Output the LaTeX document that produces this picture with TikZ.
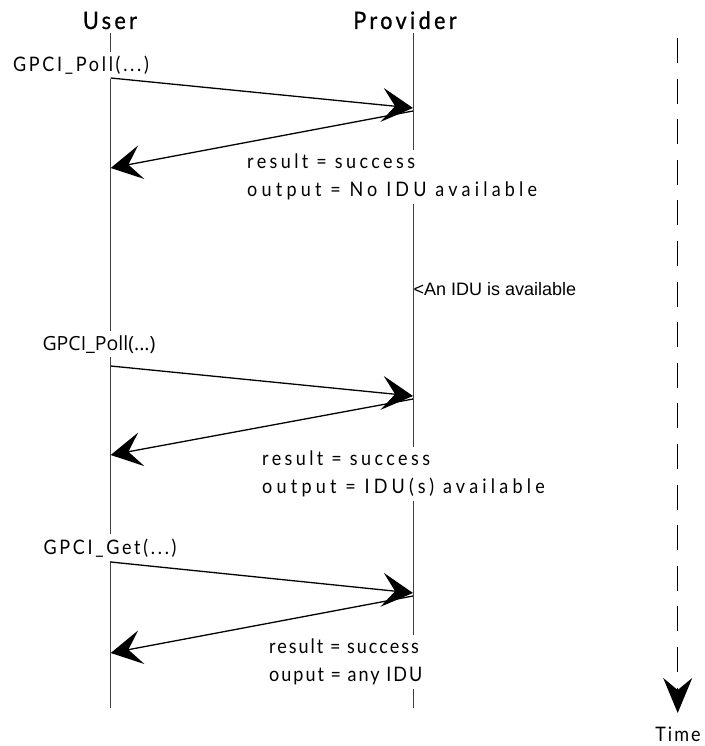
\documentclass[tikz,border=0pt]{standalone}
\usepackage{fontspec}
\newfontfamily\labfont[FakeStretch=0.9,LetterSpace=10]{Lato}
\newfontfamily\labcall[FakeStretch=0.9,LetterSpace=13.5]{Lato}
\newfontfamily\labwide[FakeStretch=0.9,LetterSpace=17]{Lato}
\newfontfamily\labwider[FakeStretch=0.9,LetterSpace=21]{Lato}
\newfontfamily\headfont[FakeStretch=0.9,LetterSpace=14,FakeBold=0.8]{Lato}
\newfontfamily\plainfont{Open Sans}
\newfontfamily\arialfont{Liberation Sans}
\usetikzlibrary{arrows.meta}
\begin{document}
\begin{tikzpicture}[x=1pt,y=-1pt,
  life/.style={draw=black!75, line width=0.8pt},
  msg/.style={draw=black, line width=1.3pt, -{Stealth[length=31pt,width=34pt,inset=13pt]}},
  headlbl/.style={font=\headfont\fontsize{24}{28}\selectfont, inner sep=0pt},
  calllbl/.style={font=\labcall\fontsize{20}{28}\selectfont, fill=white, inner sep=4pt},
  reslbl/.style={fill=white, inner sep=4pt, align=left, anchor=north west},
  notelbl/.style={font=\arialfont\fontsize{18}{20}\selectfont, inner sep=0pt, anchor=base west},
  timeline/.style={draw=black, line width=1.5pt, dash pattern=on 25pt off 15.6pt, -{Stealth[length=35pt,width=29pt,inset=12pt]}}
]
\useasboundingbox (0,0) rectangle (704,746);
% lifeline end points
\coordinate (utop) at (110.7,33);
\coordinate (ubot) at (110.7,708);
\coordinate (ptop) at (413,33);
\coordinate (pbot) at (413,708);
\draw[life] (utop) -- (ubot);
\draw[life] (ptop) -- (pbot);
% headers
\node[headlbl, anchor=base] (user) at (110,29) {User};
\node[headlbl, anchor=base] (prov) at (405,29) {Provider};
% call labels
\node[calllbl, anchor=base] (call1) at (81,72) {GPCI\_Poll(...)};
\node[calllbl, anchor=base, font=\plainfont\fontsize{19.5}{24}\selectfont] (call2) at (99,350) {GPCI\_Poll(...)};
\node[calllbl, anchor=base] (call3) at (110,554) {GPCI\_Get(...)};
% result labels
\node[reslbl, font=\fontsize{20}{28}\selectfont] (res1) at (243,150) {\labwide result = success\\\labwider output = No IDU available};
\node[reslbl, font=\fontsize{20}{28}\selectfont] (res2) at (258,447) {\labwide result = success\\\labwider output = IDU(s) available};
\node[reslbl, font=\labfont\fontsize{20}{28}\selectfont] (res3) at (265,635) {result = success\\ouput = any IDU};
% note
\node[notelbl] (note) at (413.5,295) {<An IDU is available};
% message end points
\coordinate (m1a) at (110.7,78);  \coordinate (m1b) at (413,108);
\coordinate (r1a) at (413,111);   \coordinate (r1b) at (110.7,168);
\coordinate (m2a) at (110.7,366); \coordinate (m2b) at (413,396);
\coordinate (r2a) at (413,399);   \coordinate (r2b) at (110.7,455);
\coordinate (m3a) at (110.7,562); \coordinate (m3b) at (413,593);
\coordinate (r3a) at (413,596);   \coordinate (r3b) at (110.7,653);
\draw[msg] (m1a) -- (m1b);
\draw[msg] (r1a) -- (r1b);
\draw[msg] (m2a) -- (m2b);
\draw[msg] (r2a) -- (r2b);
\draw[msg] (m3a) -- (m3b);
\draw[msg] (r3a) -- (r3b);
% time axis
\coordinate (t0) at (677.7,38);
\coordinate (t1) at (677.7,713);
\draw[timeline] (t0) -- (t1);
\node[font=\labfont\fontsize{20}{24}\selectfont, inner sep=0pt, anchor=base] (time) at (678,741) {Time};
\end{tikzpicture}
\end{document}
